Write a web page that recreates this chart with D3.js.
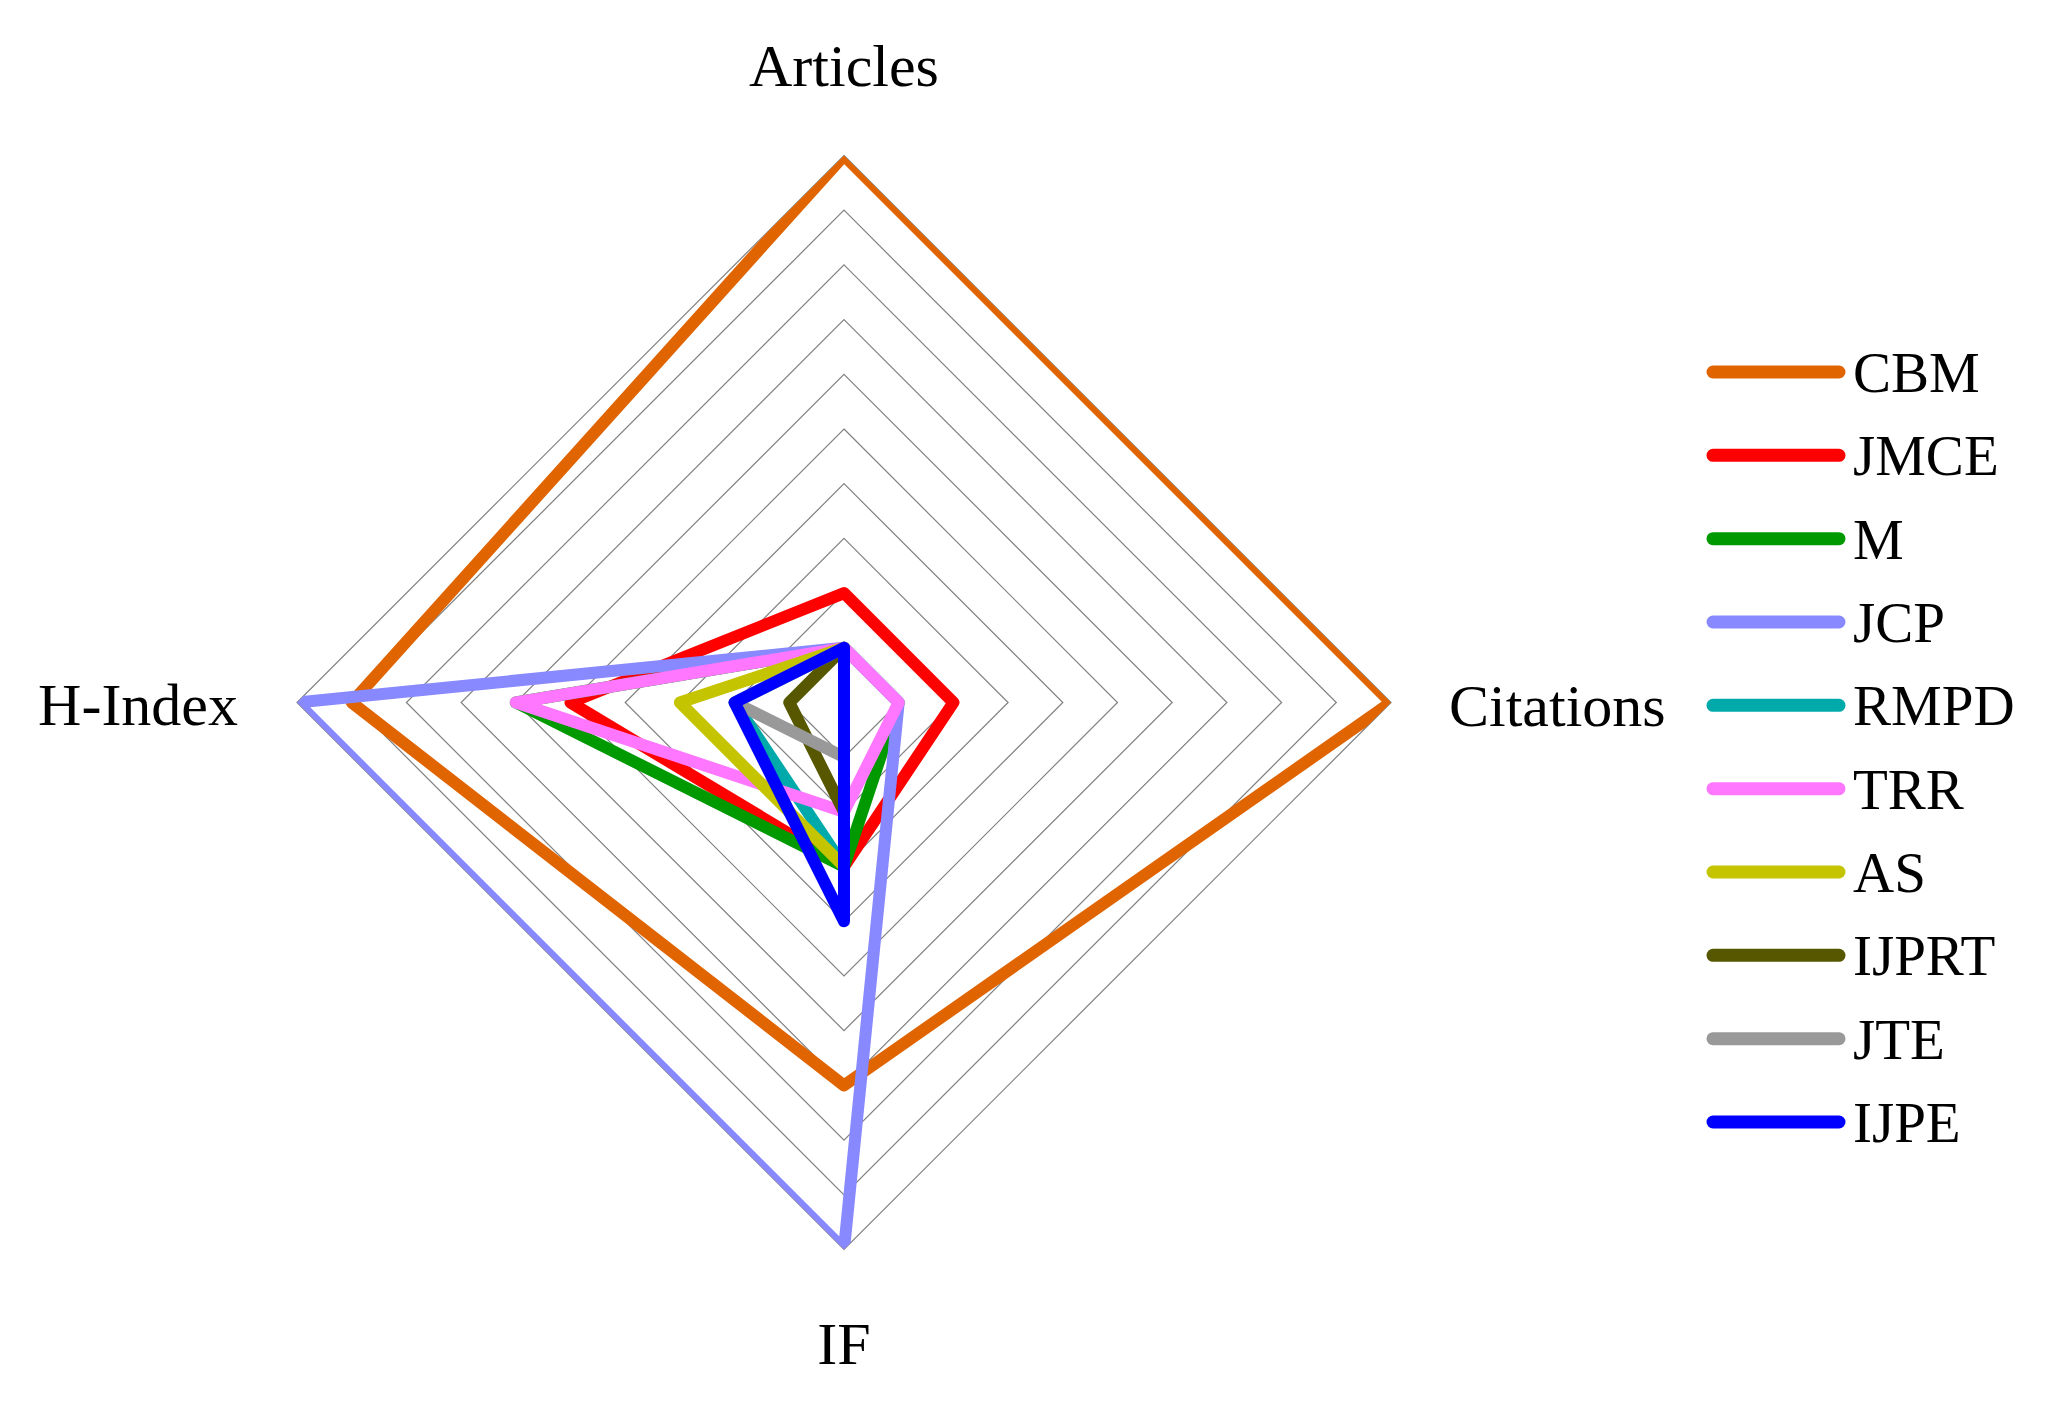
<!DOCTYPE html>
<html>
<head>
<meta charset="utf-8">
<script src="https://cdn.jsdelivr.net/npm/d3@7"></script>
<style>
  body { margin: 0; background: #ffffff; }
  svg text { font-family: "Liberation Serif", "DejaVu Serif", serif; fill: #000; }
</style>
</head>
<body>
<div id="chart"></div>
<script>
// axes of the radar, clockwise from the top
var axes = ["Articles", "Citations", "IF", "H-Index"];

var journals = ["CBM", "JMCE", "M", "JCP", "RMPD", "TRR", "AS", "IJPRT", "JTE", "IJPE"];
var colors   = ["#e06400", "#ff0000", "#009900", "#8888ff", "#00aaaa",
                "#ff77ff", "#c4c400", "#575700", "#999999", "#0000ff"];

// normalised scores (0..1)
var articles  = [1.0, 0.2, 0.1, 0.1, 0.1, 0.1, 0.1, 0.1, 0.1, 0.1];
var citations = [1.0, 0.2, 0.1, 0.1, 0.0, 0.1, 0.0, 0.0, 0.0, 0.0];
var impact    = [0.7, 0.3, 0.3, 1.0, 0.3, 0.2, 0.3, 0.2, 0.1, 0.4];
var hIndex    = [0.9, 0.5, 0.6, 1.0, 0.2, 0.6, 0.3, 0.1, 0.2, 0.2];

var gridLevels = [0.1, 0.2, 0.3, 0.4, 0.5, 0.6, 0.7, 0.8, 0.9, 1.0];

var width = 2050, height = 1402;
var cx = 844, cy = 702.5, radius = 547;

var series = journals.map(function(name, i) {
  return {
    name: name,
    color: colors[i],
    values: [articles[i], citations[i], impact[i], hIndex[i]]
  };
});

var svg = d3.select("#chart").append("svg")
    .attr("width", width)
    .attr("height", height);

var g = svg.append("g")
    .attr("transform", `translate(${cx}, ${cy})`);

var rScale = d3.scaleLinear().domain([0, 1]).range([0, radius]);
var angle = d3.scaleBand().domain(axes).range([0, 2 * Math.PI]);

var radial = d3.lineRadial()
    .angle(function(d, i) { return angle(axes[i]); })
    .radius(function(d) { return rScale(d); })
    .curve(d3.curveLinearClosed);

// plot area clip (outer ring)
svg.append("defs").append("clipPath")
    .attr("id", "plot-clip")
  .append("path")
    .attr("d", radial(axes.map(function() { return 1; })));

// grid rings
g.append("g")
    .attr("class", "grid")
  .selectAll("path")
  .data(gridLevels)
  .join("path")
    .attr("d", function(level) { return radial(axes.map(function() { return level; })); })
    .attr("fill", "none")
    .attr("stroke", "#808080")
    .attr("stroke-width", 1.2);

// series
g.append("g")
    .attr("clip-path", "url(#plot-clip)")
  .selectAll("path")
  .data(series)
  .join("path")
    .attr("d", function(d) { return radial(d.values); })
    .attr("fill", "none")
    .attr("stroke", function(d) { return d.color; })
    .attr("stroke-width", 12)
    .attr("stroke-linejoin", "round");

// axis labels
var labelPos = {
  "Articles":  {x: 0, y: -radius - 70, anchor: "middle"},
  "Citations": {x: radius + 58, y: 23, anchor: "start"},
  "IF":        {x: 0, y: radius + 114, anchor: "middle"},
  "H-Index":   {x: -radius - 59, y: 22, anchor: "end"}
};

g.append("g")
  .selectAll("text")
  .data(axes)
  .join("text")
    .attr("x", function(d) { return labelPos[d].x; })
    .attr("y", function(d) { return labelPos[d].y; })
    .attr("text-anchor", function(d) { return labelPos[d].anchor; })
    .attr("font-size", 60)
    .text(function(d) { return d; });

// legend
var legendY = d3.scalePoint().domain(journals).range([372, 1122]);

var legend = svg.append("g")
    .attr("class", "legend")
  .selectAll("g")
  .data(series)
  .join("g")
    .attr("transform", function(d) { return `translate(0, ${legendY(d.name)})`; });

legend.append("line")
    .attr("x1", 1713)
    .attr("x2", 1839)
    .attr("stroke", function(d) { return d.color; })
    .attr("stroke-width", 13)
    .attr("stroke-linecap", "round");

legend.append("text")
    .attr("x", 1853)
    .attr("y", 20)
    .attr("font-size", 57)
    .text(function(d) { return d.name; });
</script>
</body>
</html>
